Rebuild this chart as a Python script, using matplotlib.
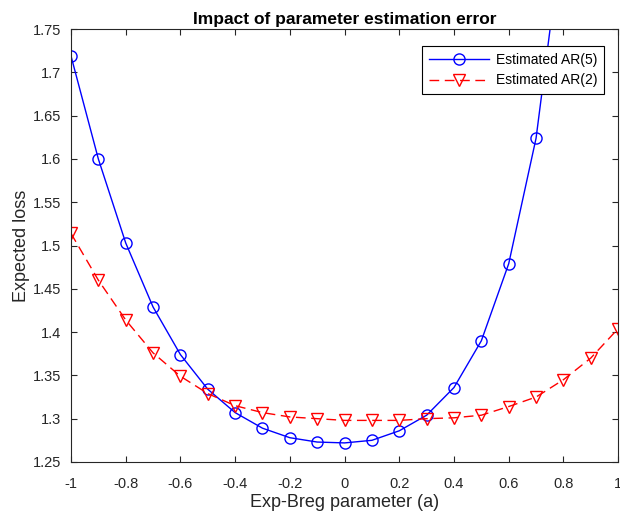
import numpy as np
import matplotlib.pyplot as plt

plt.rcParams['font.family'] = ['Liberation Sans', 'DejaVu Sans']

# exp-Breg parameter values
a = np.round(np.arange(-1.0, 1.01, 0.1), 1)

# expected loss
loss_ar5 = [1.719, 1.600, 1.503, 1.429, 1.374, 1.334, 1.307, 1.289, 1.278, 1.273,
            1.272, 1.275, 1.286, 1.304, 1.336, 1.390, 1.479, 1.624, 1.870, 2.20, 2.60]
loss_ar2 = [1.514, 1.460, 1.414, 1.376, 1.349, 1.329, 1.315, 1.307, 1.302, 1.300,
            1.298, 1.298, 1.298, 1.300, 1.301, 1.304, 1.314, 1.325, 1.345, 1.370, 1.404]

fig = plt.figure(figsize=(6.2, 5.15), dpi=100)
ax = fig.add_axes([0.1145, 0.103, 0.8825, 0.8405])

ax.plot(a, loss_ar5, color='#0000ff', lw=1.0, marker='o', ms=8,
        mfc='none', mec='#0000ff', mew=1.0, label='Estimated AR(5)')
ax.plot(a, loss_ar2, color='#ff0000', lw=1.0, ls=(0, (7, 4)), marker='v', ms=9,
        mfc='none', mec='#ff0000', mew=1.0, label='Estimated AR(2)')

ax.set_xlim(-1, 1)
ax.set_ylim(1.25, 1.75)
ax.set_xticks(np.arange(-1, 1.01, 0.2))
ax.set_xticklabels(['-1', '-0.8', '-0.6', '-0.4', '-0.2', '0', '0.2', '0.4', '0.6', '0.8', '1'])
ax.set_yticks(np.arange(1.25, 1.751, 0.05))
ax.set_yticklabels(['1.25', '1.3', '1.35', '1.4', '1.45', '1.5', '1.55', '1.6', '1.65', '1.7', '1.75'])
ax.tick_params(direction='in', top=True, right=True, labelsize=10.5, length=4,
               colors='#262626', labelcolor='#262626')
ax.tick_params(axis='x', pad=11)
ax.tick_params(axis='y', pad=7)
for s in ax.spines.values():
    s.set_color('#262626')
    s.set_linewidth(0.8)

ax.set_xlabel('Exp-Breg parameter (a)', fontsize=13, color='#262626', labelpad=2)
ax.set_ylabel('Expected loss', fontsize=13, color='#262626', labelpad=2)
ax.set_title('Impact of parameter estimation error', fontsize=12.5, fontweight='bold', pad=4)

leg = ax.legend(loc='upper right', bbox_to_anchor=(0.987, 0.978), fontsize=10,
                fancybox=False, edgecolor='black', framealpha=1, handlelength=4.3,
                borderpad=0.5, labelspacing=0.5, handletextpad=0.5)
leg.get_frame().set_linewidth(0.8)

fig.savefig('out.png', dpi=100)
